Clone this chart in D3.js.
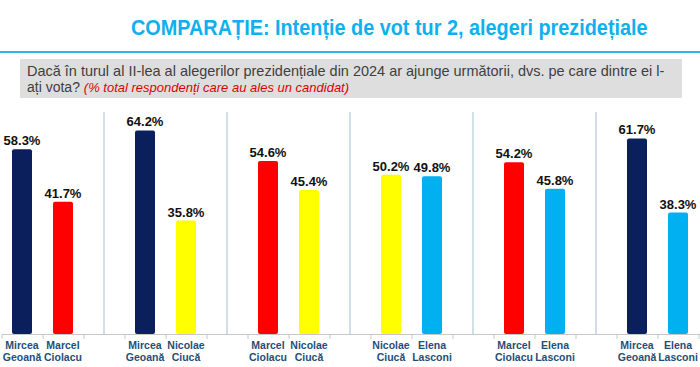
<!DOCTYPE html>
<meta charset="utf-8">
<head>
  <title>Comparatie tur 2</title>
  <script src="https://cdn.jsdelivr.net/npm/d3@7"></script>
  <style>
    body { margin: 0; background: #fff; }
    svg { display: block; font-family: "Liberation Sans", Arial, sans-serif; }
  </style>
</head>
<body>
<div id="display"></div>
<script>

// each scenario = one pair of candidates
var leftNames  = ["Mircea Geoană", "Mircea Geoană", "Marcel Ciolacu", "Nicolae Ciucă", "Marcel Ciolacu", "Mircea Geoană"];
var rightNames = ["Marcel Ciolacu", "Nicolae Ciucă", "Nicolae Ciucă", "Elena Lasconi", "Elena Lasconi", "Elena Lasconi"];
var leftValues  = [58.3, 64.2, 54.6, 50.2, 54.2, 61.7];
var rightValues = [41.7, 35.8, 45.4, 49.8, 45.8, 38.3];

var colorOf = {
  "Mircea Geoană": "#0b1f5c",
  "Marcel Ciolacu": "#ff0000",
  "Nicolae Ciucă": "#ffff00",
  "Elena Lasconi": "#00b0f0"
};

var width = 700, height = 367;
var baseY = 334, topY = 17;

var svg = d3.select("#display")
  .append("svg")
    .attr("width", width)
    .attr("height", height);

// squeeze a text horizontally so it spans w pixels from x
function fitText(sel, x, y, w) {
  var natural = sel.node().getComputedTextLength();
  var k = w / natural;
  sel.attr("x", 0).attr("y", 0)
    .attr("transform", "translate(" + x + "," + y + ") scale(" + k + ",1)");
}

// flatten into slots: bar, bar, gap
var bars = [];
leftNames.forEach(function(n, i) {
  bars.push({slot: i * 3,     name: n,             value: leftValues[i]});
  bars.push({slot: i * 3 + 1, name: rightNames[i], value: rightValues[i]});
});
var nSlots = leftNames.length * 3;

var x = d3.scaleBand()
  .domain(d3.range(nSlots))
  .range([1.5, 1.5 + nSlots * 41])
  .padding(0);
var xEdge = d3.scaleLinear()
  .domain([0, nSlots])
  .range([1.5, 1.5 + nSlots * 41]);

var y = d3.scaleLinear()
  .domain([0, 100])
  .range([baseY, topY]);

// title
var title = svg.append("text")
  .style("font-size", "22px").style("font-weight", "bold")
  .attr("fill", "#0fb0ee")
  .text("COMPARAȚIE: Intenție de vot tur 2, alegeri prezidețiale");
fitText(title, 131, 35, 517);

svg.append("line")
  .attr("x1", 0).attr("x2", width)
  .attr("y1", 52).attr("y2", 52)
  .attr("stroke", "#2fb3e6").attr("stroke-width", 2);

// question box
svg.append("rect")
  .attr("x", 20).attr("y", 59)
  .attr("width", 662).attr("height", 39)
  .attr("fill", "#dedede");

var q1 = svg.append("text")
  .style("font-size", "14px").attr("fill", "#404040")
  .text("Dacă în turul al II-lea al alegerilor prezidențiale din 2024 ar ajunge următorii, dvs. pe care dintre ei l-");
fitText(q1, 27, 76, 638);

var q2 = svg.append("text")
  .attr("x", 27).attr("y", 92)
  .style("font-size", "14px").attr("fill", "#404040");
q2.append("tspan").text("ați vota? ");
q2.append("tspan")
  .attr("fill", "#e00000").style("font-style", "italic").style("font-size", "13px")
  .text("(% total respondenți care au ales un candidat)");

// dividers between scenarios
var gaps = d3.range(leftNames.length - 1).map(function(i) { return i * 3 + 2; });
svg.selectAll(".divider")
  .data(gaps)
  .enter().append("line")
    .attr("class", "divider")
    .attr("x1", function(d) { return x(d) + x.bandwidth() / 2; })
    .attr("x2", function(d) { return x(d) + x.bandwidth() / 2; })
    .attr("y1", 112).attr("y2", baseY)
    .attr("stroke", "#b9cde0").attr("stroke-width", 1.3);

// axis with ticks on slot edges
var axis = svg.append("g")
  .attr("transform", "translate(0," + baseY + ")")
  .call(d3.axisBottom(xEdge).ticks(nSlots).tickSize(5).tickSizeOuter(0).tickFormat(""));
axis.select(".domain").attr("stroke", "#c8c8c8");
axis.selectAll(".tick line").attr("stroke", "#c8c8c8");

var barW = 20;

svg.selectAll(".bar")
  .data(bars)
  .enter().append("rect")
    .attr("class", "bar")
    .attr("x", function(d) { return x(d.slot) + x.bandwidth() / 2 - barW / 2; })
    .attr("y", function(d) { return y(d.value); })
    .attr("width", barW)
    .attr("height", function(d) { return baseY - y(d.value); })
    .attr("rx", 2)
    .attr("fill", function(d) { return colorOf[d.name]; });

svg.selectAll(".val")
  .data(bars)
  .enter().append("text")
    .attr("class", "val")
    .attr("x", function(d) { return x(d.slot) + x.bandwidth() / 2; })
    .attr("y", function(d) { return y(d.value) - 4; })
    .attr("text-anchor", "middle")
    .style("font-size", "13px").style("font-weight", "bold")
    .attr("fill", "#111")
    .text(function(d) { return d.value.toFixed(1) + "%"; });

var names = svg.selectAll(".name")
  .data(bars)
  .enter().append("text")
    .attr("class", "name")
    .attr("text-anchor", "middle")
    .style("font-size", "10.5px").style("font-weight", "bold")
    .attr("fill", "#1f4e79");

names.selectAll("tspan")
  .data(function(d) {
    var cx = x(d.slot) + x.bandwidth() / 2;
    return d.name.split(" ").map(function(w) { return {w: w, cx: cx}; });
  })
  .enter().append("tspan")
    .attr("x", function(d) { return d.cx; })
    .attr("y", function(d, i) { return 349 + i * 12; })
    .text(function(d) { return d.w; });

</script>
</body>
